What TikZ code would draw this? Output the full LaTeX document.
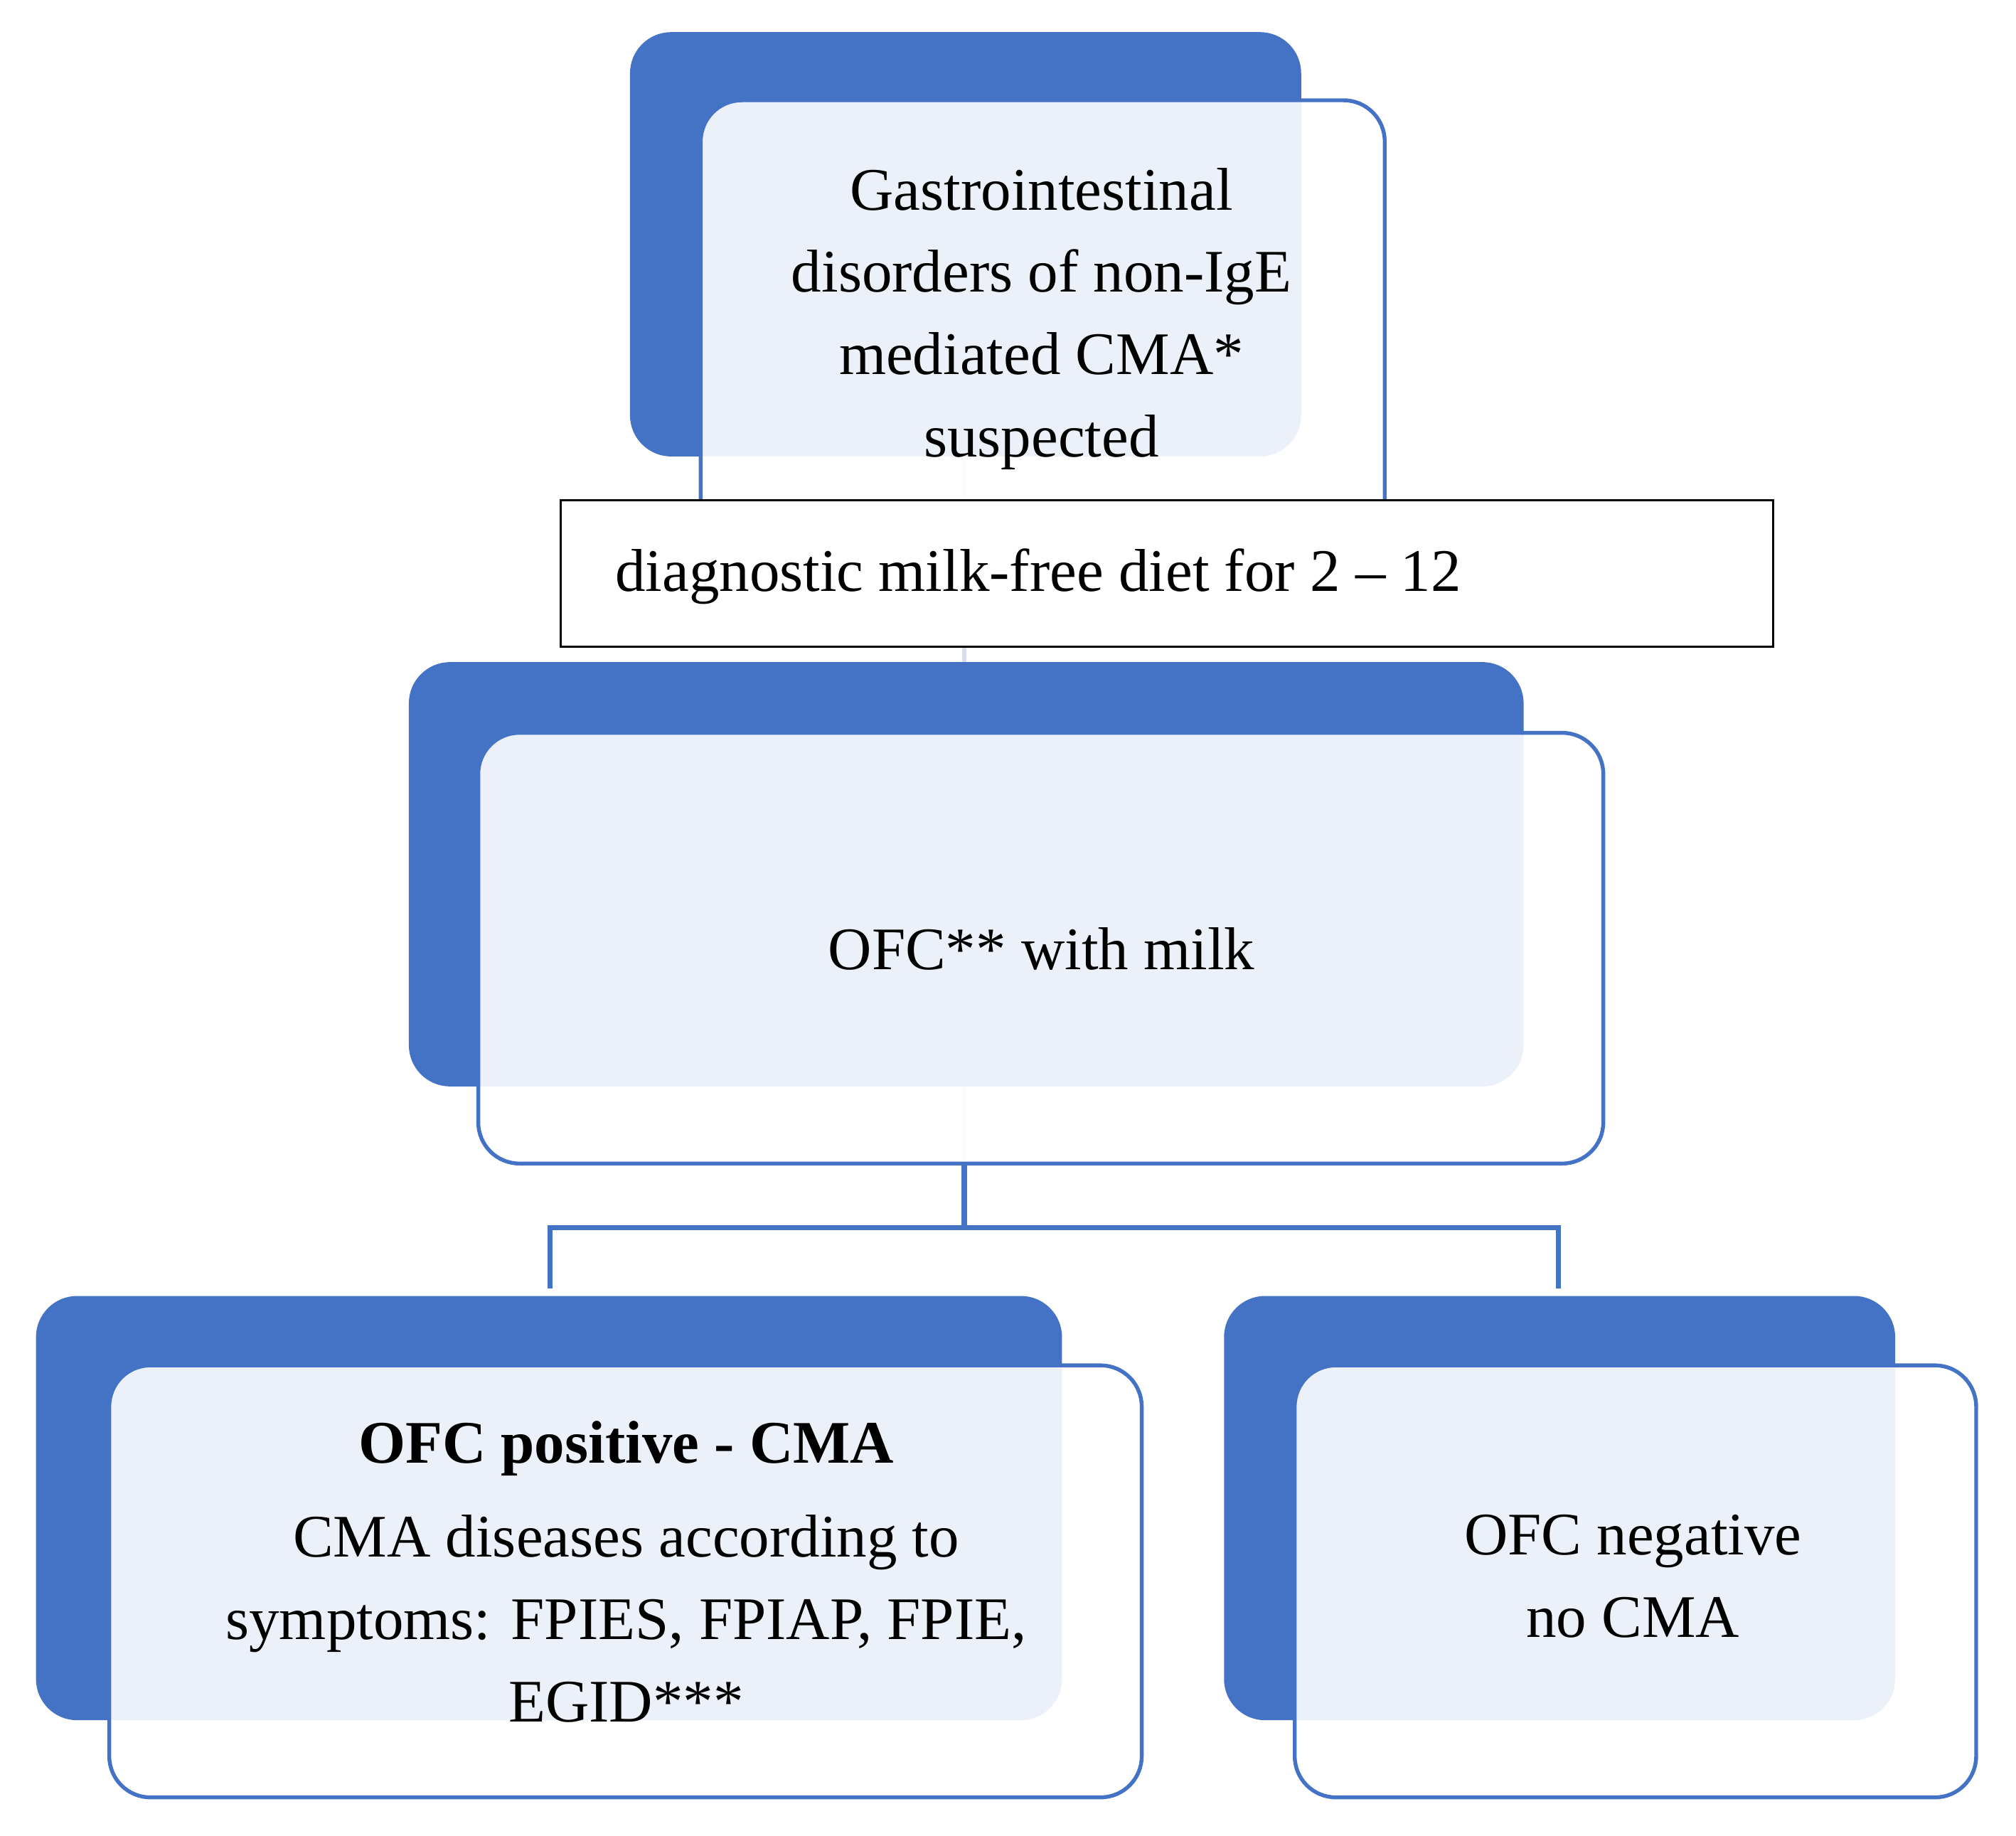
\documentclass[tikz,border=0pt]{standalone}
\usepackage{fontspec}
\setmainfont{Liberation Serif}
\begin{document}
\begin{tikzpicture}[x=1pt,y=-1pt,
 dark/.style={fill={rgb,255:red,68;green,114;blue,196},draw=none,rounded corners=32pt},
 light/.style={fill=white,fill opacity=0.9,draw={rgb,255:red,68;green,114;blue,196},line width=3pt,rounded corners=32pt,text opacity=1},
 conn/.style={draw={rgb,255:red,68;green,114;blue,196},line width=4pt},
 faint/.style={draw={rgb,255:red,215;green,222;blue,235},line width=3pt},
 txt/.style={font=\fontsize{47}{64}\selectfont,align=center}]
\useasboundingbox (0,0) rectangle (1568,1428);
% connectors
\coordinate (t1) at (750,355); \coordinate (t2) at (750,515);
\draw[faint] (t1) -- (t2);
\coordinate (m1) at (750,845); \coordinate (m2) at (750,955);
\coordinate (l1) at (428,955); \coordinate (l2) at (428,1002);
\coordinate (r1) at (1212,955); \coordinate (r2) at (1212,1002);
\draw[faint] (m1) -- (750,905);
\draw[conn] (750,905) -- (m2);
\draw[conn] (l2) -- (l1) -- (r1) -- (r2);
% top
\path[dark] (490,25) rectangle (1012,355);
\path[light] (545,78) rectangle (1077,420);
\node[txt] (top) at (810,248) {Gastrointestinal\\disorders of non-IgE\\mediated CMA*\\suspected};
\node[draw=black,fill=white,line width=2pt,minimum width=943pt,minimum height=114pt,anchor=north west,inner sep=0pt] (diet) at (435,388) {};
\node[txt,anchor=base west] (dt) at (475,460) {diagnostic milk-free diet for 2 – 12};
% middle
\path[dark] (318,515) rectangle (1185,845);
\path[light] (372,570) rectangle (1247,905);
\node[txt] (mid) at (810,738) {OFC** with milk};
% bottom left
\path[dark] (28,1008) rectangle (826,1338);
\path[light] (85,1062) rectangle (888,1398);
\node[txt,anchor=base] (pos) at (487,1138) {\textbf{OFC positive - CMA}};
\node[txt,anchor=north] (posd) at (487,1175) {CMA diseases according to\\symptoms: FPIES, FPIAP, FPIE,\\EGID***};
% bottom right
\path[dark] (952,1008) rectangle (1474,1338);
\path[light] (1007,1062) rectangle (1537,1398);
\node[txt] (neg) at (1270,1226) {OFC negative\\no CMA};
\end{tikzpicture}
\end{document}
